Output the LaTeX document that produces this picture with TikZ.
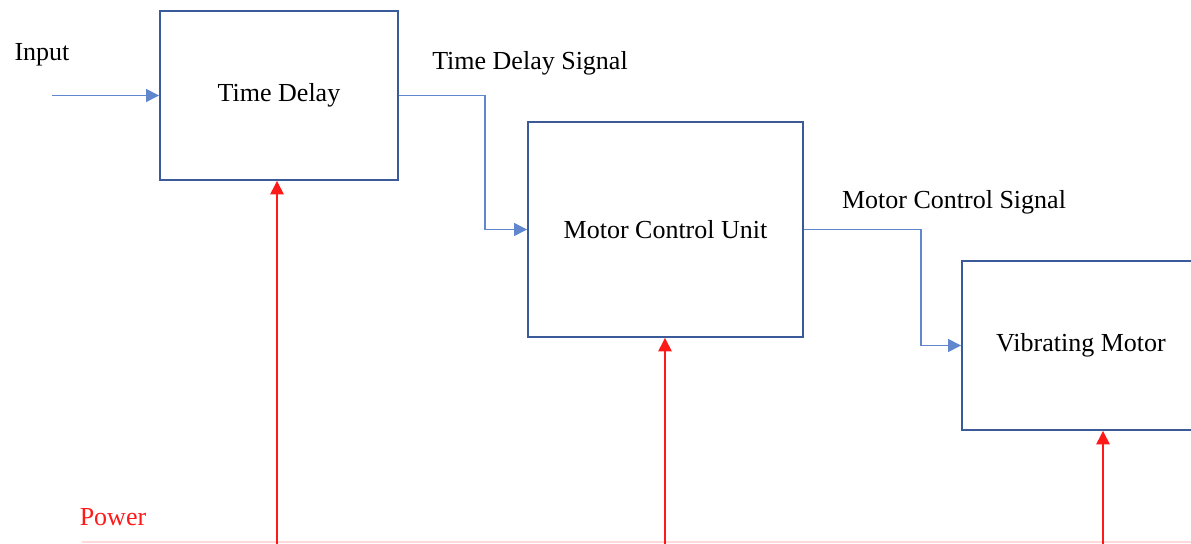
\documentclass[tikz,border=0pt]{standalone}
\usepackage{fontspec}
\setmainfont{Liberation Serif}
\usetikzlibrary{arrows.meta}
\definecolor{boxblue}{HTML}{3A5A9A}
\definecolor{linkblue}{HTML}{4472C4}
\definecolor{pwrred}{HTML}{FF1A1A}
\tikzset{
  block/.style={draw=boxblue, line width=1.1pt, fill=white, minimum width=4.76cm, minimum height=3.38cm, font=\fontsize{14.8}{18}\selectfont},
  sig/.style={linkblue!85, line width=0.75pt, -{Triangle[length=0.26cm,width=0.26cm]}},
  pwr/.style={pwrred, line width=0.75pt, -{Triangle[length=0.27cm,width=0.27cm]}},
  pwrbus/.style={red!15, line width=0.75pt},
  lbl/.style={font=\fontsize{14.8}{18}\selectfont},
}
\begin{document}
\begin{tikzpicture}[x=0.02cm,y=-0.02cm]
\clip (0,0) rectangle (1191,544);
\fill[white] (0,0) rectangle (1191,544);
% blocks
\node[block] (delay) at (279,95.5) {Time Delay};
\node[block, minimum width=5.5cm, minimum height=4.3cm] (mcu) at (665.5,229.5) {Motor Control Unit};
\node[block] (vib) at (1081,345.5) {Vibrating Motor};
% signal path
\coordinate (in) at (52,95.5);
\node[lbl] (inlbl) at (42,55) {Input};
\draw[sig] (in) -- (delay.west);
\draw[sig] (delay.east) -- (485,95.5) |- (mcu.west);
\node[lbl] (tds) at (530,63) {Time Delay Signal};
\draw[sig] (mcu.east) -- (921,229.5) |- (vib.west);
\node[lbl] (mcs) at (954,202) {Motor Control Signal};
% power feed
\node[lbl, text=pwrred] (pwrlbl) at (113,517) {Power};
\coordinate (busL) at (82,542);
\coordinate (busR) at (1191,542);
\draw[pwrbus] (busL) -- (busR);
\coordinate (p1) at (277,544);
\coordinate (p2) at (665,544);
\coordinate (p3) at (1103,544);
\draw[pwr] (p1) -- (p1 |- delay.south);
\draw[pwr] (p2) -- (p2 |- mcu.south);
\draw[pwr] (p3) -- (p3 |- vib.south);
\end{tikzpicture}
\end{document}
